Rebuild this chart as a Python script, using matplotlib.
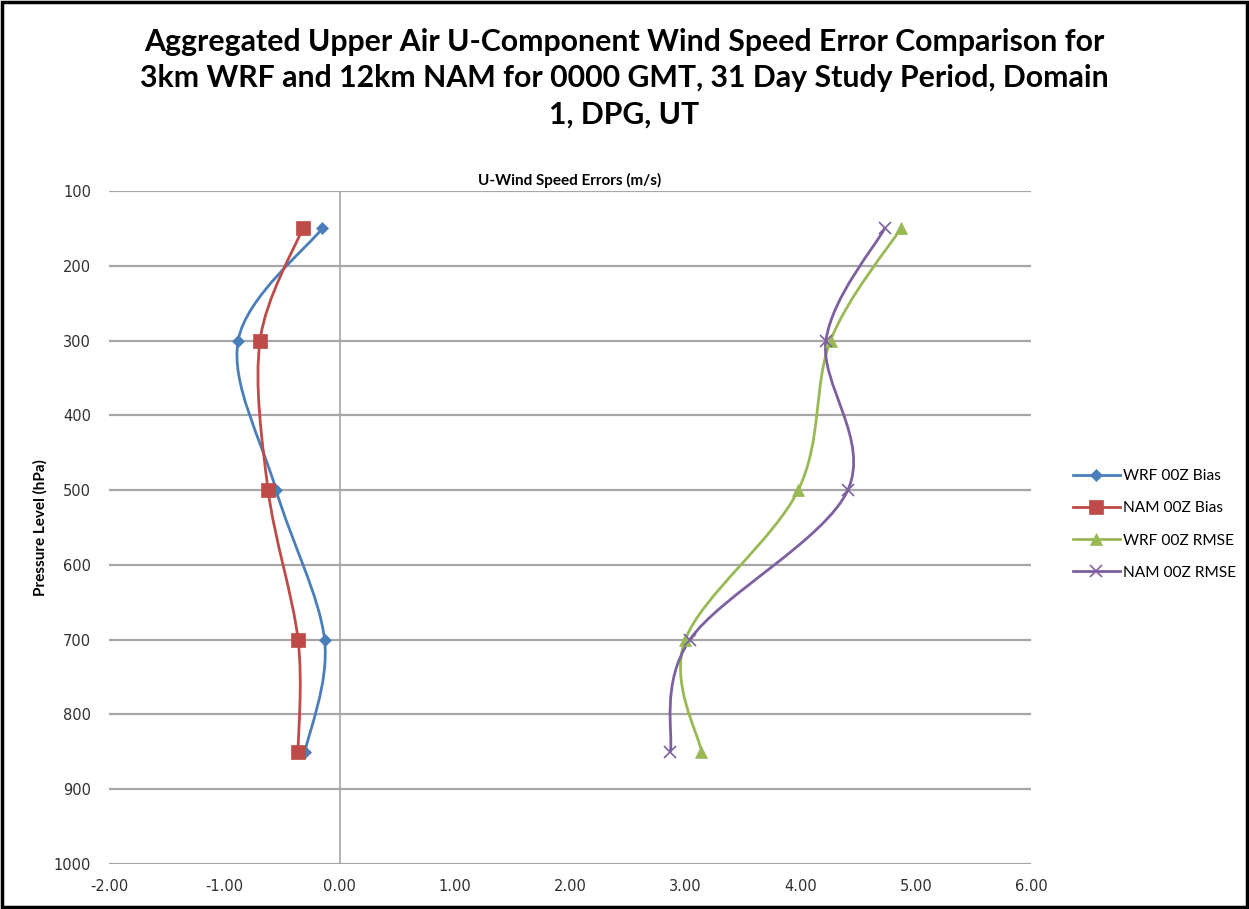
import numpy as np
import matplotlib
matplotlib.use("Agg")
from matplotlib import pyplot as plt
from matplotlib.path import Path
from matplotlib.patches import PathPatch, Rectangle
from matplotlib.lines import Line2D

# data
levels = [150, 300, 500, 700, 850]
wrf_bias = [-0.15, -0.88, -0.55, -0.13, -0.30]
nam_bias = [-0.32, -0.69, -0.62, -0.36, -0.36]
wrf_rmse = [4.87, 4.26, 3.98, 3.00, 3.14]
nam_rmse = [4.73, 4.22, 4.41, 3.04, 2.87]

series_names = ["WRF 00Z Bias", "NAM 00Z Bias", "WRF 00Z RMSE", "NAM 00Z RMSE"]
colors = ["#4A7EBB", "#BE4B48", "#98B954", "#7D60A0"]
markers = ["D", "s", "^", "x"]
msizes = [6, 10, 9, 9]

title = ("Aggregated Upper Air U-Component Wind Speed Error Comparison for\n"
         "3km WRF and 12km NAM for 0000 GMT, 31 Day Study Period, Domain\n"
         "1, DPG, UT")


def smooth_path(xs, ys):
    # Excel style smoothed line: bezier segments with catmull-rom control points
    p = np.column_stack([xs, ys]).astype(float)
    n = len(p)
    verts = [p[0]]
    codes = [Path.MOVETO]
    for i in range(n - 1):
        p0 = p[i - 1] if i > 0 else p[i]
        p3 = p[i + 2] if i + 2 < n else p[i + 1]
        c1 = p[i] + (p[i + 1] - p0) / 6.0
        c2 = p[i + 1] - (p3 - p[i]) / 6.0
        verts += [c1, c2, p[i + 1]]
        codes += [Path.CURVE4] * 3
    return Path(verts, codes)


fig = plt.figure(figsize=(12.49, 9.09), dpi=100)
ax = fig.add_axes([0.0873, 0.0495, 0.7382, 0.7404])

grid_c = "#A6A6A6"
for y in range(100, 1001, 100):
    ax.axhline(y, color=grid_c, lw=1.6, zorder=1)
ax.axvline(0, color=grid_c, lw=1.2, zorder=1)

all_data = [wrf_bias, nam_bias, wrf_rmse, nam_rmse]
handles = []
for vals, name, c, m, ms in zip(all_data, series_names, colors, markers, msizes):
    ax.add_patch(PathPatch(smooth_path(vals, levels), fill=False, edgecolor=c,
                           lw=2.0, zorder=3))
    ax.plot(vals, levels, linestyle="", marker=m, color=c, markersize=ms,
            markeredgewidth=1.2 if m == "x" else 0.5, zorder=4)
    handles.append(Line2D([0], [0], color=c, lw=2.0, marker=m, markersize=ms,
                          markeredgewidth=1.2 if m == "x" else 0.5, label=name))

ax.set_xlim(-2, 6)
ax.set_ylim(1000, 100)
ax.set_xticks(np.arange(-2, 6.01, 1))
ax.set_xticklabels([f"{v:.2f}" for v in np.arange(-2, 6.01, 1)])
ax.set_yticks(range(100, 1001, 100))
for s in ax.spines.values():
    s.set_visible(False)
ax.tick_params(axis="both", length=0, labelsize=10.5, labelcolor="#303030")
ax.tick_params(axis="y", pad=13)
ax.tick_params(axis="x", pad=11)

ax.set_title("U-Wind Speed Errors (m/s)", fontsize=11, fontweight="bold",
             family="Lato", pad=4)
ax.set_ylabel("Pressure Level (hPa)", fontsize=11, fontweight="bold",
              family="Lato", labelpad=4)

fig.text(0.5, 0.914, title, ha="center", va="center", fontsize=21.8,
         fontweight="bold", family="Lato", linespacing=1.36)

fig.legend(handles=handles, loc="center left", bbox_to_anchor=(0.848, 0.423),
           frameon=False, prop={"family": "Lato", "size": 11.2},
           handlelength=3.0, labelspacing=1.17, handletextpad=0.2)

fig.patches.append(Rectangle((0.002, 0.002), 0.996, 0.996, transform=fig.transFigure,
                             fill=False, edgecolor="black", lw=2.5))

fig.savefig("out.png", dpi=100)
